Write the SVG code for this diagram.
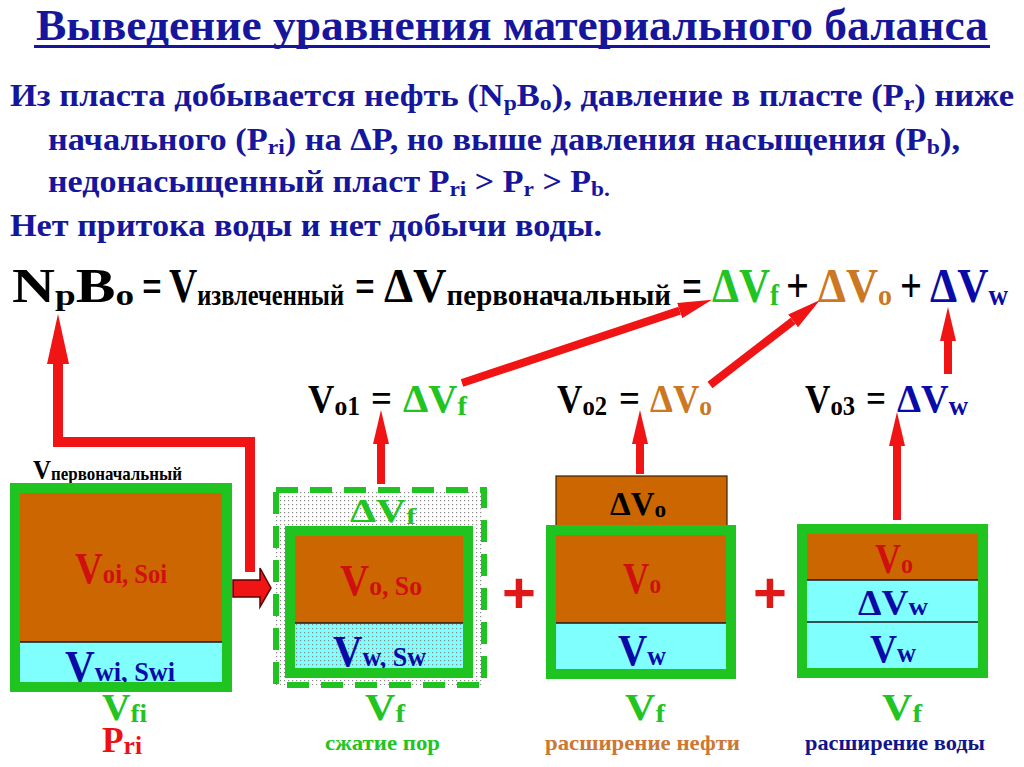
<svg xmlns="http://www.w3.org/2000/svg" width="1024" height="767" viewBox="0 0 1024 767">
<defs>
<style>
text{font-family:"Liberation Serif","Times New Roman",serif;font-weight:bold}
.blu{fill:#16169c}
.blk{fill:#000}
.grn{fill:#22c422}
.org{fill:#cc7722}
.red{fill:#d01010}
.bl2{fill:#0a0aa8}
.pl{font-family:"Liberation Sans",Arial,sans-serif;fill:#e01818}
.brown{fill:#cc6600}
.cyan{fill:#80ffff}
.gb{fill:none;stroke:#20c420;stroke-width:10}
.sep{stroke:#1a1a1a;stroke-width:1.5}
.arr{stroke:#f01414;stroke-width:8;fill:none}
</style>
<pattern id="dots" width="4" height="4" patternUnits="userSpaceOnUse"><rect width="1.2" height="1.2" fill="#8a8a8a"/></pattern>
<marker id="ah" markerUnits="userSpaceOnUse" viewBox="0 -10 40 20" markerWidth="40" markerHeight="20" refX="0" refY="0" orient="auto"><path d="M0,-8 L34,0 L0,8 z" fill="#f01414"/></marker>
<marker id="ahBig" markerUnits="userSpaceOnUse" viewBox="0 -14 56 28" markerWidth="56" markerHeight="28" refX="0" refY="0" orient="auto"><path d="M0,-11 L50,0 L0,11 z" fill="#f01414"/></marker>
</defs>
<rect width="1024" height="767" fill="#fff"/>

<g id="title">
<text x="36" y="40" font-size="44" class="blu" textLength="952" lengthAdjust="spacingAndGlyphs">Выведение уравнения материального баланса</text>
<rect x="34" y="45" width="956" height="3" fill="#16169c"/>
</g>

<g id="description" font-size="32">
<text x="10" y="106" class="blu" textLength="1004" lengthAdjust="spacingAndGlyphs">Из пласта добывается нефть (N<tspan font-size="22" dy="4">p</tspan><tspan dy="-4">B</tspan><tspan font-size="22" dy="4">o</tspan><tspan dy="-4">), давление в пласте (P</tspan><tspan font-size="22" dy="4">r</tspan><tspan dy="-4">) ниже</tspan></text>
<text x="48" y="150" class="blu" textLength="912" lengthAdjust="spacingAndGlyphs">начального (P<tspan font-size="22" dy="4">ri</tspan><tspan dy="-4">) на ΔP, но выше давления насыщения (P</tspan><tspan font-size="22" dy="4">b</tspan><tspan dy="-4">),</tspan></text>
<text x="48" y="192" class="blu" textLength="562" lengthAdjust="spacingAndGlyphs">недонасыщенный пласт P<tspan font-size="22" dy="4">ri</tspan><tspan dy="-4"> &gt; P</tspan><tspan font-size="22" dy="4">r</tspan><tspan dy="-4"> &gt; P</tspan><tspan font-size="22" dy="4">b.</tspan></text>
<text x="10" y="236" class="blu" textLength="592" lengthAdjust="spacingAndGlyphs">Нет притока воды и нет добычи воды.</text>
</g>

<g id="equation" font-size="48">
<text x="12" y="302" class="blk" textLength="122" lengthAdjust="spacingAndGlyphs">N<tspan font-size="30" dy="3">p</tspan><tspan dy="-3">B</tspan><tspan font-size="30" dy="3">o</tspan></text>
<text x="142" y="302" class="blk" textLength="20" lengthAdjust="spacingAndGlyphs">=</text>
<text x="169" y="302" class="blk" textLength="175" lengthAdjust="spacingAndGlyphs">V<tspan font-size="30" dy="3">извлеченный</tspan></text>
<text x="355" y="302" class="blk" textLength="20" lengthAdjust="spacingAndGlyphs">=</text>
<text x="384" y="302" class="blk" textLength="287" lengthAdjust="spacingAndGlyphs">ΔV<tspan font-size="30" dy="3">первоначальный</tspan></text>
<text x="682" y="302" class="blk" textLength="20" lengthAdjust="spacingAndGlyphs">=</text>
<text x="712" y="302" class="grn" textLength="67" lengthAdjust="spacingAndGlyphs">ΔV<tspan font-size="30" dy="3">f</tspan></text>
<text x="786" y="302" class="blk" textLength="23" lengthAdjust="spacingAndGlyphs">+</text>
<text x="818" y="302" class="org" textLength="74" lengthAdjust="spacingAndGlyphs">ΔV<tspan font-size="30" dy="3">o</tspan></text>
<text x="900" y="302" class="blk" textLength="22" lengthAdjust="spacingAndGlyphs">+</text>
<text x="930" y="302" class="bl2" textLength="78" lengthAdjust="spacingAndGlyphs">ΔV<tspan font-size="30" dy="3">w</tspan></text>
</g>

<g id="row2" font-size="40">
<text x="308" y="412" class="blk" textLength="52" lengthAdjust="spacingAndGlyphs">V<tspan font-size="28" dy="3">o1</tspan></text>
<text x="371" y="412" class="blk" textLength="21" lengthAdjust="spacingAndGlyphs">=</text>
<text x="403" y="412" class="grn" textLength="64" lengthAdjust="spacingAndGlyphs">ΔV<tspan font-size="28" dy="3">f</tspan></text>
<text x="557" y="412" class="blk" textLength="50" lengthAdjust="spacingAndGlyphs">V<tspan font-size="28" dy="3">o2</tspan></text>
<text x="619" y="412" class="blk" textLength="21" lengthAdjust="spacingAndGlyphs">=</text>
<text x="650" y="412" class="org" textLength="62" lengthAdjust="spacingAndGlyphs">ΔV<tspan font-size="28" dy="3">o</tspan></text>
<text x="805" y="412" class="blk" textLength="50" lengthAdjust="spacingAndGlyphs">V<tspan font-size="28" dy="3">o3</tspan></text>
<text x="866" y="412" class="blk" textLength="20" lengthAdjust="spacingAndGlyphs">=</text>
<text x="897" y="412" class="bl2" textLength="71" lengthAdjust="spacingAndGlyphs">ΔV<tspan font-size="28" dy="3">w</tspan></text>
</g>

<g id="box-initial">
<text x="33" y="479" font-size="28" class="blk" textLength="149" lengthAdjust="spacingAndGlyphs">V<tspan font-size="19" dy="1">первоначальный</tspan></text>
<rect x="20" y="493" width="202" height="149" class="brown"/>
<rect x="20" y="642" width="202" height="40" class="cyan"/>
<line x1="20" y1="642" x2="222" y2="642" class="sep"/>
<text x="75" y="583" font-size="44" class="red" textLength="92" lengthAdjust="spacingAndGlyphs">V<tspan font-size="28">oi, Soi</tspan></text>
<text x="65" y="681" font-size="44" class="bl2" textLength="110" lengthAdjust="spacingAndGlyphs">V<tspan font-size="28">wi, Swi</tspan></text>
<rect x="15" y="488" width="212" height="199" class="gb"/>
<text x="102" y="720" font-size="38" class="grn" textLength="45" lengthAdjust="spacingAndGlyphs">V<tspan font-size="26" dy="2">fi</tspan></text>
<text x="102" y="752" font-size="36" fill="#ee1111" textLength="40" lengthAdjust="spacingAndGlyphs">P<tspan font-size="26" dy="2">ri</tspan></text>
</g>

<g id="box-pore-compression">
<rect x="276" y="490" width="208" height="195" fill="#fff"/>
<rect x="276" y="490" width="208" height="195" fill="url(#dots)"/>
<rect x="276" y="490" width="208" height="195" fill="none" stroke="#20c420" stroke-width="6" stroke-dasharray="22 12"/>
<text x="350" y="522" font-size="34" class="grn" textLength="66" lengthAdjust="spacingAndGlyphs">ΔV<tspan font-size="24" dy="2">f</tspan></text>
<rect x="295" y="536" width="168" height="87" class="brown"/>
<rect x="295" y="623" width="168" height="45" class="cyan"/>
<rect x="295" y="623" width="168" height="45" fill="url(#dots)"/>
<line x1="295" y1="623" x2="463" y2="623" class="sep"/>
<text x="340" y="595" font-size="44" class="red" textLength="82" lengthAdjust="spacingAndGlyphs">V<tspan font-size="28">o, So</tspan></text>
<text x="333" y="666" font-size="44" class="bl2" textLength="93" lengthAdjust="spacingAndGlyphs">V<tspan font-size="28">w, Sw</tspan></text>
<rect x="290" y="531" width="178" height="142" class="gb"/>
<text x="365" y="720" font-size="38" class="grn" textLength="40" lengthAdjust="spacingAndGlyphs">V<tspan font-size="26" dy="2">f</tspan></text>
<text x="325" y="750" font-size="22" class="grn" textLength="115" lengthAdjust="spacingAndGlyphs">сжатие пор</text>
</g>

<g id="box-oil-expansion">
<rect x="556" y="476" width="171" height="50" class="brown" stroke="#3a2000" stroke-width="1.2"/>
<text x="610" y="515" font-size="34" class="blk" textLength="56" lengthAdjust="spacingAndGlyphs">ΔV<tspan font-size="24" dy="2">o</tspan></text>
<rect x="556" y="535" width="170" height="88" class="brown"/>
<rect x="556" y="623" width="170" height="46" class="cyan"/>
<line x1="556" y1="623" x2="726" y2="623" class="sep"/>
<text x="623" y="593" font-size="44" class="red" textLength="38" lengthAdjust="spacingAndGlyphs">V<tspan font-size="28">o</tspan></text>
<text x="618" y="665" font-size="44" class="bl2" textLength="48" lengthAdjust="spacingAndGlyphs">V<tspan font-size="28">w</tspan></text>
<rect x="551" y="530" width="180" height="144" class="gb"/>
<text x="625" y="720" font-size="38" class="grn" textLength="40" lengthAdjust="spacingAndGlyphs">V<tspan font-size="26" dy="2">f</tspan></text>
<text x="545" y="750" font-size="22" fill="#cc7733" textLength="195" lengthAdjust="spacingAndGlyphs">расширение нефти</text>
</g>

<g id="box-water-expansion">
<rect x="807" y="534" width="171" height="46" class="brown"/>
<rect x="807" y="580" width="171" height="88" class="cyan"/>
<line x1="807" y1="580" x2="978" y2="580" class="sep"/>
<line x1="807" y1="622" x2="978" y2="622" class="sep"/>
<text x="875" y="573" font-size="42" class="red" textLength="38" lengthAdjust="spacingAndGlyphs">V<tspan font-size="28">o</tspan></text>
<text x="858" y="615" font-size="36" class="bl2" textLength="70" lengthAdjust="spacingAndGlyphs">ΔV<tspan font-size="26">w</tspan></text>
<text x="870" y="662" font-size="40" class="bl2" textLength="46" lengthAdjust="spacingAndGlyphs">V<tspan font-size="28">w</tspan></text>
<rect x="802" y="529" width="181" height="144" class="gb"/>
<text x="882" y="720" font-size="38" class="grn" textLength="40" lengthAdjust="spacingAndGlyphs">V<tspan font-size="26" dy="2">f</tspan></text>
<text x="805" y="750" font-size="22" fill="#14148c" textLength="180" lengthAdjust="spacingAndGlyphs">расширение воды</text>
</g>

<g id="plus-signs">
<text x="502" y="613" font-size="58" class="pl">+</text>
<text x="753" y="613" font-size="58" class="pl">+</text>
</g>

<g id="connectors">
<path d="M250,572 L250,442 L58,442 L58,364" stroke="#f01414" stroke-width="10" fill="none" marker-end="url(#ahBig)"/>
<path d="M233,580 L260,580 L260,568 L271,588 L260,607 L260,597 L233,597 z" fill="#f01414" stroke="#5a0000" stroke-width="1.5"/>
<line x1="381" y1="484" x2="381" y2="444" class="arr" marker-end="url(#ah)"/>
<line x1="640" y1="474" x2="640" y2="444" class="arr" marker-end="url(#ah)"/>
<line x1="897" y1="520" x2="897" y2="446" class="arr" marker-end="url(#ah)"/>
<line x1="948" y1="374" x2="948" y2="341" class="arr" marker-end="url(#ah)"/>
<line x1="462" y1="383" x2="679.7" y2="310.6" class="arr" marker-end="url(#ah)"/>
<line x1="710" y1="385" x2="793.1" y2="320.8" class="arr" marker-end="url(#ah)"/>
</g>
</svg>
